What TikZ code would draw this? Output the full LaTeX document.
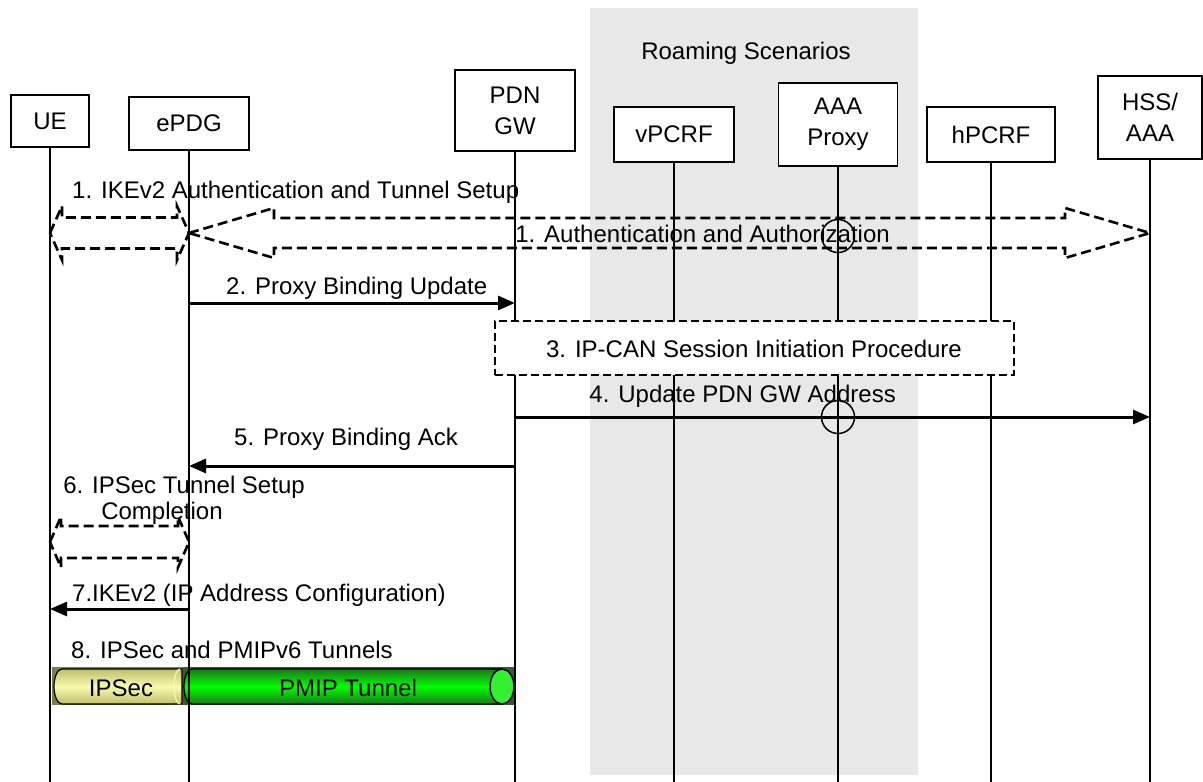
\documentclass[tikz,border=0pt]{standalone}
\usepackage{fontspec}
\setmainfont{Liberation Sans}
\usetikzlibrary{positioning,calc,arrows.meta}
\definecolor{roamgray}{RGB}{232,232,232}
\definecolor{ipseclight}{RGB}{250,250,175}
\definecolor{ipsecdark}{RGB}{190,190,110}
\definecolor{ipsecshadow}{RGB}{125,125,78}
\definecolor{pmipgreen}{RGB}{0,255,0}
\definecolor{pmipdark}{RGB}{28,120,28}
\definecolor{pmipshadow}{RGB}{46,94,46}
\definecolor{pmipcap}{RGB}{51,240,51}

% dashed block arrow with two heads: left point, right point, head length, shaft half, head half
\newcommand{\blockarrow}[5]{%
  \draw[hollow] let \p1=(#1), \p2=(#2) in
    (\p1) -- (\x1+#3,\y1+#5) -- (\x1+#3,\y1+#4) -- (\x2-#3,\y1+#4) -- (\x2-#3,\y1+#5) -- (\p2)
    -- (\x2-#3,\y1-#5) -- (\x2-#3,\y1-#4) -- (\x1+#3,\y1-#4) -- (\x1+#3,\y1-#5) -- cycle;}

\begin{document}
\begin{tikzpicture}[
    x=1pt, y=-1pt,
    font=\fontsize{24}{31}\selectfont,
    box/.style={rectangle, draw, line width=1.7pt, fill=white, align=center, inner sep=0pt},
    life/.style={line width=1.8pt},
    msg/.style={-{Triangle[length=17pt,width=14pt]}, line width=3pt},
    hollow/.style={line width=2.6pt, dash pattern=on 10pt off 5pt, line join=miter},
    session/.style={rectangle, draw, line width=1.5pt, dash pattern=on 8pt off 4pt, fill=white,
                    minimum width=519pt, minimum height=54pt},
    hop/.style={circle, draw, line width=1.5pt, minimum size=33pt, inner sep=0pt},
    label/.style={anchor=base west, inner sep=0pt}
]
    \useasboundingbox (0,0) rectangle (1203,782);

    % Roaming area
    \fill[roamgray] (590,8) rectangle (918,775);
    \node[anchor=base, inner sep=0pt] (roaming) at (746,59) {Roaming Scenarios};

    % Entities
    \node[box, minimum width=78pt, minimum height=52pt]  (ue)    at (50,121)    {UE};
    \node[box, minimum width=120pt, minimum height=53pt] (epdg)  at (189,123.5) {ePDG};
    \node[box, minimum width=120pt, minimum height=81pt] (pdngw) at (515,110.5) {PDN\\GW};
    \node[box, minimum width=120pt, minimum height=55pt] (vpcrf) at (674,134.5) {vPCRF};
    \node[box, minimum width=119pt, minimum height=83pt] (aaa)   at (838,124.5) {AAA\\Proxy};
    \node[box, minimum width=128pt, minimum height=55pt] (hpcrf) at (991,134.5) {hPCRF};
    \node[box, minimum width=104pt, minimum height=83pt] (hss)   at (1150,117.5) {HSS/\\AAA};

    % Message rows
    \coordinate (r1) at (0,233);
    \coordinate (r2) at (0,303);
    \coordinate (r4) at (0,417);
    \coordinate (r5) at (0,466);
    \coordinate (r6) at (0,542);
    \coordinate (r7) at (0,609);
    \coordinate (bottom) at (0,782);

    % Tunnels (step 8)
    \fill[ipsecshadow] (52,667) rectangle (183,705);
    \fill[pmipshadow] (183,667) rectangle (514,705);
    \draw[line width=1.2pt, top color=ipsecdark, bottom color=ipsecdark, middle color=ipseclight]
        (62,669) -- (182,669) -- (182,704) -- (62,704)
        arc[start angle=270, end angle=90, x radius=8pt, y radius=17.5pt] -- cycle;
    \draw[ipseclight, line width=1.2pt] (180,704)
        arc[start angle=270, end angle=90, x radius=6pt, y radius=17.5pt];
    \draw[line width=1.2pt, top color=pmipdark, bottom color=pmipdark, middle color=pmipgreen]
        (192,669) -- (502,669) -- (502,704) -- (192,704)
        arc[start angle=270, end angle=90, x radius=8pt, y radius=17.5pt] -- cycle;
    \draw[fill=pmipcap, line width=1.5pt] (502,686.5) ellipse [x radius=12pt, y radius=17.5pt];
    \node (ipsec) at (121,688) {IPSec};
    \node (pmip)  at (348,688) {PMIP Tunnel};

    % Lifelines
    \foreach \e in {ue, epdg, pdngw, vpcrf, aaa, hpcrf, hss}
        \draw[life] (\e.south) -- (\e |- bottom);

    % 1. authentication
    \node[label] (ikev2) at (72,198) {1. IKEv2 Authentication and Tunnel Setup};
    \blockarrow{ue |- r1}{epdg |- r1}{12pt}{15.5pt}{27pt}
    \blockarrow{epdg |- r1}{hss |- r1}{85pt}{15pt}{25pt}
    \node[anchor=base east, inner sep=0pt] (authz) at (890,242) {1. Authentication and Authorization};
    \node[hop] (hop1) at (aaa |- 0,236) {};

    % 2. proxy binding update
    \node[label] (pbu) at (226,294) {2. Proxy Binding Update};
    \draw[msg] (epdg |- r2) -- (pdngw |- r2);

    % 3. IP-CAN session
    \node[session] (ipcan) at (754.5,348) {};
    \node[anchor=base, inner sep=0pt] (ipcantext) at (754,357) {3. IP-CAN Session Initiation Procedure};

    % 4. update PDN GW address
    \node[anchor=base east, inner sep=0pt] (upd) at (896,402) {4. Update PDN GW Address};
    \draw[msg] (pdngw |- r4) -- (hss |- r4);
    \node[hop] (hop2) at (aaa |- r4) {};

    % 5. proxy binding ack
    \node[label] (pba) at (234,445) {5. Proxy Binding Ack};
    \draw[msg] (pdngw |- r5) -- (epdg |- r5);

    % 6. IPSec tunnel setup completion
    \node[align=center, inner sep=0pt, font=\fontsize{24}{26}\selectfont] (setup) at (184,500)
        {6. IPSec Tunnel Setup\\\hspace*{-44pt}Completion};
    \blockarrow{ue |- r6}{epdg |- r6}{11pt}{16pt}{25.5pt}

    % 7. IP address configuration
    \node[label] (ipconf) at (72,601) {7.IKEv2 (IP Address Configuration)};
    \draw[msg] (epdg |- r7) -- (ue |- r7);

    % 8. tunnels
    \node[label] (tunnels) at (71,658) {8. IPSec and PMIPv6 Tunnels};
\end{tikzpicture}
\end{document}
